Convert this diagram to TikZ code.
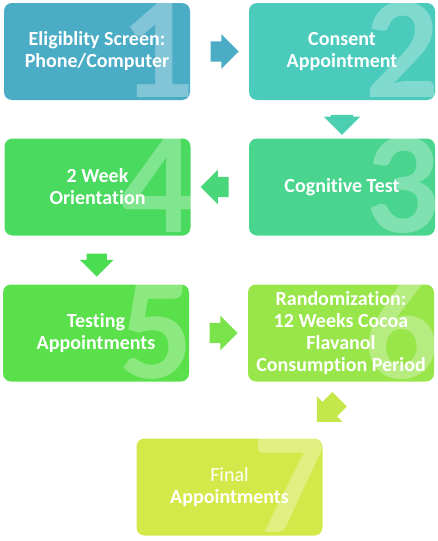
\documentclass[tikz,border=0pt]{standalone}
\usepackage{fontspec}
\setmainfont[Ligatures=NoCommon]{Carlito}
\usepackage{xcolor}
\usetikzlibrary{calc,shapes.arrows}

\definecolor{c1}{HTML}{4BACC6}
\definecolor{c2}{HTML}{4BCBBB}
\definecolor{c3}{HTML}{4AD58F}
\definecolor{c4}{HTML}{4ADA5F}
\definecolor{c5}{HTML}{5AE04A}
\definecolor{c6}{HTML}{98E64A}
\definecolor{c7}{HTML}{D3E94A}
\definecolor{a1}{HTML}{4BACC6}
\definecolor{a2}{HTML}{4BCFB0}
\definecolor{a3}{HTML}{4AD77C}
\definecolor{a4}{HTML}{4ADD52}
\definecolor{a5}{HTML}{7AE24A}
\definecolor{a6}{HTML}{C4E84A}

\tikzset{
  box/.style={rectangle, rounded corners=8pt, minimum width=186pt, minimum height=97pt,
    text=white, align=center, font=\fontsize{20}{22}\selectfont\bfseries, inner sep=0pt},
  num/.style={text=white, text opacity=0.3, inner sep=0pt, anchor=base east,
    font=\fontsize{146}{146}\selectfont\bfseries},
  arr/.style={single arrow, inner xsep=0pt, inner ysep=10pt, single arrow head extend=7pt,
    single arrow head indent=0pt, minimum height=28pt}
}

\begin{document}
\begin{tikzpicture}[x=1pt,y=-1pt]
\useasboundingbox (0,0) rectangle (438,541);
% Steps
\node[box, fill=c1] (b1) at (97,51.5) {Eligiblity Screen:\\Phone/Computer};
\node[box, fill=c2] (b2) at (342,51.5) {Consent\\Appointment};
\node[box, fill=c3] (b3) at (342,187) {Cognitive Test};
\node[box, fill=c4] (b4) at (97.5,187) {2 Week\\Orientation};
\node[box, fill=c5] (b5) at (96,333) {Testing\\Appointments};
\node[box, fill=c6] (b6) at (341,333) {Randomization:\\12 Weeks Cocoa\\Flavanol\\Consumption Period};
\node[box, fill=c7] (b7) at (229.5,487) {{\mdseries Final}\\Appointments};

% Step numbers
\foreach \i in {1,...,7} {
    \node[num] (n\i) at ($(b\i.south east)+(4,-3)$) {\i};
}

% Arrows
\node[arr, fill=a1] (a12) at ($(b1.east)!0.5!(b2.west)$) {};
\node[arr, fill=a2, rotate=-90, minimum height=20pt, inner ysep=11pt] (a23) at ($(b2.south)!0.5!(b3.north)$) {};
\node[arr, fill=a3, rotate=180] (a34) at ($(b3.west)!0.5!(b4.east)$) {};
\node[arr, fill=a4, rotate=-90, minimum height=23pt, single arrow head extend=6.5pt] (a45) at ($(b4.south)!0.5!(b5.north)$) {};
\node[arr, fill=a5] (a56) at ($(b5.east)!0.5!(b6.west)$) {};
\node[arr, fill=a6, rotate=225, minimum height=32pt, single arrow head extend=8pt] (a67) at ($(b6.south)!0.5!(b7.north east)+(0,-3)$) {};
\end{tikzpicture}
\end{document}
